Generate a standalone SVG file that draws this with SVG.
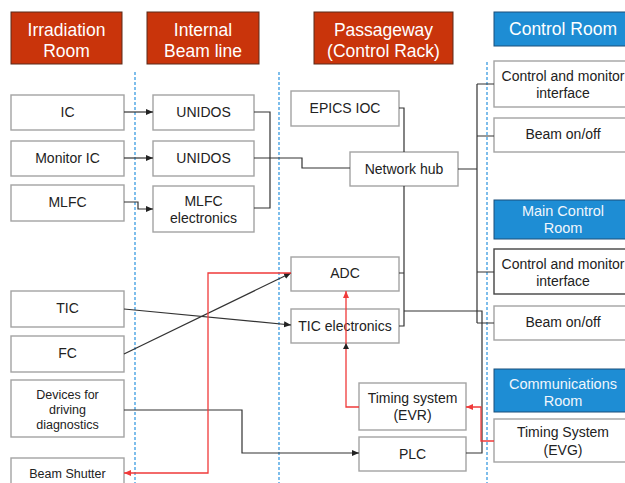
<svg xmlns="http://www.w3.org/2000/svg" width="625" height="483" viewBox="0 0 625 483">
<style>
text{font-family:"Liberation Sans",Arial,sans-serif;text-anchor:middle;fill:#222}
.hr{fill:#C9340B;stroke:#5a2a1a;stroke-width:1}
.hb{fill:#1E8DD4;stroke:#1a4f7a;stroke-width:1}
.ht{fill:#fff;font-size:17.5px}
.hs{fill:#f0f6fc;font-size:14.5px}
.n{fill:#fff;stroke:#a3a3a3;stroke-width:1.4}
.nd{fill:#fff;stroke:#444;stroke-width:1.4}
.t{font-size:14px}
.s{font-size:12.5px}
.c{fill:none;stroke:#333;stroke-width:1.2}
.r{fill:none;stroke:#F03A3A;stroke-width:1.3}
.d{stroke:#3A9BE0;stroke-width:1.3;stroke-dasharray:3 2}
</style>
<defs>
<marker id="ab" markerUnits="userSpaceOnUse" markerWidth="7" markerHeight="7" refX="7" refY="3.5" orient="auto"><path d="M0,0.5 L7,3.5 L0,6.5 z" fill="#222"/></marker>
<marker id="ar" markerUnits="userSpaceOnUse" markerWidth="7" markerHeight="7" refX="7" refY="3.5" orient="auto"><path d="M0,0.5 L7,3.5 L0,6.5 z" fill="#F03A3A"/></marker>
</defs>
<rect width="625" height="483" fill="#fff"/>
<g id="dividers">
<line class="d" x1="135" y1="72" x2="135" y2="483"/>
<line class="d" x1="279" y1="72" x2="279" y2="483"/>
<line class="d" x1="487" y1="62" x2="487" y2="483"/>
</g>
<g id="h-irradiation"><rect class="hr" x="11" y="12" width="111" height="52"/><text class="ht" x="66.5" y="36">Irradiation</text><text class="ht" x="66.5" y="57">Room</text></g>
<g id="h-internal"><rect class="hr" x="147" y="12" width="112" height="52"/><text class="ht" x="203" y="36">Internal</text><text class="ht" x="203" y="57">Beam line</text></g>
<g id="h-passage"><rect class="hr" x="314" y="12" width="139" height="52"/><text class="ht" x="383.5" y="36">Passageway</text><text class="ht" x="383.5" y="57">(Control Rack)</text></g>
<g id="h-control"><rect class="hb" x="494" y="12" width="140" height="34"/><text class="ht" x="563" y="35">Control Room</text></g>
<g id="h-main"><rect class="hb" x="494" y="200" width="140" height="39"/><text class="hs" x="563" y="216">Main Control</text><text class="hs" x="563" y="233">Room</text></g>
<g id="h-comm"><rect class="hb" x="494" y="369" width="140" height="43"/><text class="hs" x="563" y="389">Communications</text><text class="hs" x="563" y="406">Room</text></g>
<g id="ic"><rect class="n" x="11" y="95" width="113" height="35"/><text class="t" x="67.5" y="117">IC</text></g>
<g id="monitor-ic"><rect class="n" x="11" y="141" width="113" height="35"/><text class="t" x="67.5" y="163">Monitor IC</text></g>
<g id="mlfc"><rect class="n" x="11" y="185" width="113" height="36"/><text class="t" x="67.5" y="207">MLFC</text></g>
<g id="unidos1"><rect class="n" x="153" y="95" width="101" height="35"/><text class="t" x="203.5" y="117">UNIDOS</text></g>
<g id="unidos2"><rect class="n" x="153" y="141" width="101" height="35"/><text class="t" x="203.5" y="163">UNIDOS</text></g>
<g id="mlfc-el"><rect class="n" x="153" y="186" width="101" height="46"/><text class="t" x="203.5" y="206">MLFC</text><text class="t" x="203.5" y="223">electronics</text></g>
<g id="epics"><rect class="n" x="291" y="91" width="108" height="35"/><text class="t" x="345" y="113">EPICS IOC</text></g>
<g id="hub"><rect class="n" x="350" y="152" width="108" height="34"/><text class="t" x="404" y="174">Network hub</text></g>
<g id="cmi1"><rect class="n" x="494" y="61" width="140" height="46"/><text class="t" x="563" y="81">Control and monitor</text><text class="t" x="563" y="98">interface</text></g>
<g id="beam1"><rect class="n" x="494" y="118" width="140" height="34"/><text class="t" x="563" y="139">Beam on/off</text></g>
<g id="cmi2"><rect class="nd" x="494" y="249" width="140" height="45"/><text class="t" x="563" y="269">Control and monitor</text><text class="t" x="563" y="286">interface</text></g>
<g id="beam2"><rect class="n" x="494" y="306" width="140" height="34"/><text class="t" x="563" y="327">Beam on/off</text></g>
<g id="evg"><rect class="n" x="494" y="419" width="140" height="43"/><text class="t" x="563" y="437">Timing System</text><text class="t" x="563" y="455">(EVG)</text></g>
<g id="tic"><rect class="n" x="11" y="291" width="113" height="36"/><text class="t" x="67.5" y="313">TIC</text></g>
<g id="fc"><rect class="n" x="11" y="336" width="113" height="36"/><text class="t" x="67.5" y="358">FC</text></g>
<g id="devices"><rect class="n" x="11" y="380" width="113" height="57"/><text class="s" x="67.5" y="399">Devices for</text><text class="s" x="67.5" y="414">driving</text><text class="s" x="67.5" y="429">diagnostics</text></g>
<g id="shutter"><rect class="n" x="11" y="458" width="113" height="30"/><text class="s" x="67.5" y="477.5">Beam Shutter</text></g>
<g id="adc"><rect class="n" x="291" y="257" width="108" height="34"/><text class="t" x="345" y="278">ADC</text></g>
<g id="tic-el"><rect class="n" x="291" y="309" width="108" height="34"/><text class="t" x="345" y="331">TIC electronics</text></g>
<g id="evr"><rect class="n" x="359" y="383" width="107" height="47"/><text class="t" x="412.5" y="403">Timing system</text><text class="t" x="412.5" y="420">(EVR)</text></g>
<g id="plc"><rect class="n" x="359" y="437" width="107" height="34"/><text class="t" x="412.5" y="459">PLC</text></g>
<g id="connectors">
<path class="c" d="M124,112 H153" marker-end="url(#ab)"/>
<path class="c" d="M124,158 H153" marker-end="url(#ab)"/>
<path class="c" d="M124,202 H138 V209 H153" marker-end="url(#ab)"/>
<path class="c" d="M254,112 H270 V208 H254"/>
<path class="c" d="M254,158 H302 V168 H350"/>
<path class="c" d="M399,108 H404 V152"/>
<path class="c" d="M404,186 V326 H399 M399,273 H404"/>
<path class="c" d="M404,311 H482 V453 H466"/>
<path class="c" d="M458,169 H477 M477,84 V323 M477,84 H494 M477,136 H494 M477,272 H494 M477,323 H494"/>
<path class="c" d="M124,309 L291,325" marker-end="url(#ab)"/>
<path class="c" d="M124,354 L291,273" marker-end="url(#ab)"/>
<path class="c" d="M124,410 H242 V453 H359" marker-end="url(#ab)"/>
<path class="r" d="M494,441 H481 V407 H466" marker-end="url(#ar)"/>
<path class="r" d="M359,407 H346 V291" marker-end="url(#ar)"/>
<path d="M343,349 L346,343 L349,349 z" fill="#222"/>
<path class="r" d="M291,273 H208 V473 H124" marker-end="url(#ar)"/>
</g>
</svg>
